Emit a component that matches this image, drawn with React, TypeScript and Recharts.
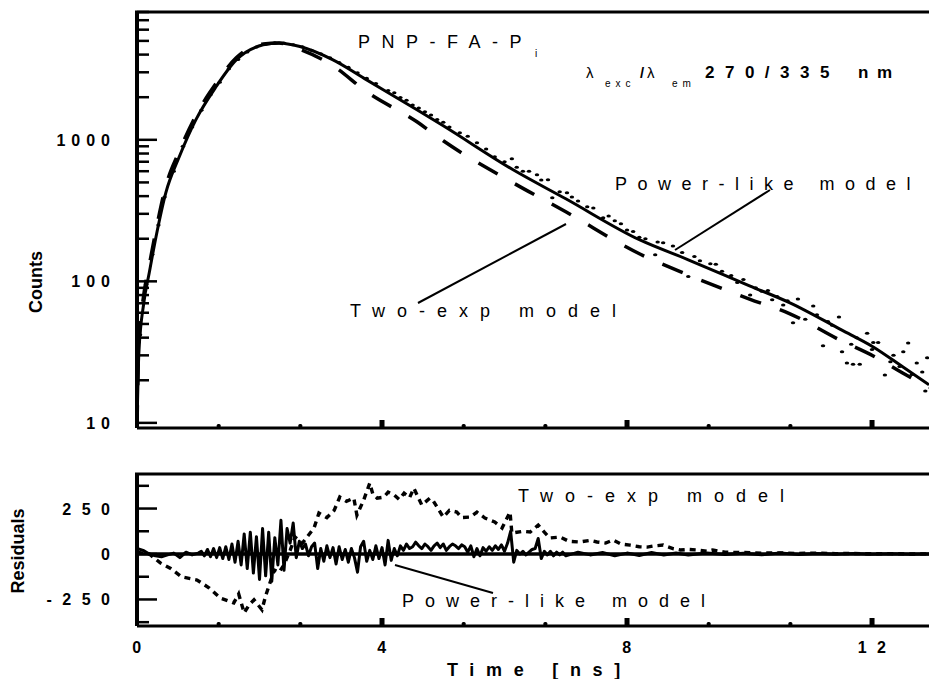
import { ComposedChart, Line, Scatter, XAxis, YAxis, ReferenceLine } from 'recharts'

// fitted decay curves (counts vs time in ns)
const modelTimes = [0, 0.03, 0.11, 0.2, 0.31, 0.47, 0.69, 0.96, 1.29, 1.62, 2.06, 2.32, 2.66, 3.2, 3.75, 4.57, 5.0, 6.14, 7.0, 8.21, 9.0, 10.0, 10.66, 11.5, 12.02, 12.5, 12.93]
const powerLikeCounts = [9.3, 31, 70, 115, 206, 422, 759, 1384, 2370, 3670, 4690, 4840, 4560, 3670, 2650, 1630, 1256, 614, 383, 196, 142, 93, 70.5, 45.4, 34.4, 24.9, 18.6]
const twoExpCounts = [9.3, 36, 80, 130, 230, 470, 830, 1480, 2500, 3800, 4750, 4830, 4350, 3335, 2183, 1341, 984, 497, 310, 156, 111, 75, 59, 38, 29.7, 22.5, 17.8]

// measured decay, [time, counts]
const measured: [number, number][] = [
  [0.05, 42], [0.15, 95], [0.25, 155], [0.35, 250], [0.45, 395], [0.6, 600], [0.75, 900], [0.9, 1230], [1.05, 1620], [1.2, 2080],
  [1.35, 2550], [1.5, 3180], [1.65, 3700], [1.8, 4180], [1.95, 4520], [2.1, 4760], [2.25, 4850], [2.4, 4830], [2.55, 4700], [2.7, 4540],
  [2.85, 4300], [3.0, 4050], [3.15, 3800], [3.3, 3520], [3.45, 3250], [3.6, 2980], [3.75, 2720], [3.9, 2500], [4.1, 2230], [4.2, 2150],
  [4.3, 1990], [4.4, 1900], [4.5, 1760], [4.6, 1680], [4.7, 1580], [4.8, 1500], [4.9, 1390], [5.0, 1330], [5.1, 1230], [5.27, 1120],
  [5.4, 1060], [5.55, 953], [5.7, 860], [5.84, 759], [6.0, 700], [6.12, 735], [6.2, 640], [6.3, 600], [6.4, 600], [6.53, 566],
  [6.6, 520], [6.71, 522], [6.78, 389], [6.9, 430], [7.02, 422], [7.1, 395], [7.2, 370], [7.35, 336], [7.45, 330], [7.61, 281],
  [7.7, 290], [7.8, 268], [7.9, 255], [8.0, 231], [8.1, 225], [8.2, 205], [8.3, 200], [8.46, 154], [8.5, 190], [8.59, 187],
  [8.75, 178], [8.9, 160], [9.0, 108], [9.1, 150], [9.19, 140], [9.36, 133], [9.45, 132], [9.55, 118], [9.7, 110], [9.8, 98],
  [9.9, 103], [10.01, 80], [10.1, 90], [10.2, 85], [10.3, 86], [10.37, 74], [10.45, 78], [10.55, 68], [10.62, 73], [10.71, 51],
  [10.79, 75], [10.91, 54], [11.04, 67], [11.1, 58], [11.2, 35], [11.28, 52], [11.35, 49], [11.46, 56], [11.51, 31.8], [11.59, 26.5],
  [11.66, 36], [11.69, 26], [11.75, 40], [11.8, 26], [11.92, 43], [12.0, 33], [12.02, 37], [12.1, 37], [12.21, 21.8], [12.3, 27],
  [12.35, 30], [12.45, 25], [12.51, 31.8], [12.59, 36.7], [12.65, 22], [12.73, 26.5], [12.82, 22.9], [12.87, 16.8], [12.9, 28.8],
]

// residuals, [time, residual]
const powerResiduals: [number, number][] = [
  [0, 30], [0.1, 20], [0.2, 0], [0.3, -10], [0.4, -15], [0.5, -5], [0.6, 5], [0.7, -20], [0.8, 10], [0.9, -5], [1.0, 5],
  [1.05, 15], [1.1, -10], [1.15, 25], [1.2, -15], [1.25, 30], [1.3, -20], [1.35, 35], [1.4, -25], [1.45, 40], [1.5, -30],
  [1.55, 55], [1.6, -45], [1.65, 70], [1.7, -60], [1.75, 110], [1.8, -80], [1.85, 120], [1.9, -105], [1.95, 95], [2.0, -140],
  [2.05, 140], [2.1, -120], [2.15, 120], [2.2, -150], [2.25, 90], [2.3, -60], [2.35, 185], [2.4, -90], [2.45, 140], [2.5, 60],
  [2.55, 170], [2.6, -20], [2.65, 70], [2.7, 30], [2.75, 55], [2.8, -10], [2.85, 40], [2.9, 60], [2.95, -80], [3.0, 30],
  [3.05, -40], [3.1, 45], [3.15, -20], [3.2, 35], [3.25, -55], [3.3, 40], [3.35, -30], [3.4, 25], [3.45, -45], [3.5, 30],
  [3.55, -20], [3.6, -100], [3.65, 40], [3.7, 70], [3.75, -40], [3.8, 20], [3.85, -30], [3.9, 45], [3.95, -25], [4.0, 35],
  [4.05, -60], [4.1, 75], [4.15, -35], [4.2, 30], [4.25, -10], [4.3, 45], [4.35, 20], [4.4, 55], [4.45, 30], [4.5, 40],
  [4.55, 65], [4.6, 45], [4.65, 30], [4.7, 55], [4.75, 40], [4.8, 20], [4.85, 45], [4.9, 60], [4.95, 35], [5.0, 55],
  [5.05, 20], [5.1, 40], [5.15, 55], [5.2, 45], [5.25, 30], [5.3, 50], [5.35, 40], [5.4, 10], [5.45, 45], [5.5, -15],
  [5.55, 30], [5.6, -10], [5.65, 35], [5.7, 15], [5.75, 40], [5.8, 20], [5.85, 45], [5.9, 25], [5.95, 50], [6.0, 15],
  [6.05, 60], [6.1, 125], [6.15, -45], [6.2, 20], [6.25, 0], [6.3, 15], [6.35, -5], [6.4, 10], [6.45, 25], [6.5, 30],
  [6.55, 85], [6.6, -25], [6.65, 15], [6.7, -5], [6.75, 15], [6.8, -10], [6.85, 10], [6.9, -5], [6.95, 10], [7.0, -10],
  [7.2, 10], [7.4, -5], [7.6, 8], [7.8, -10], [8.0, 5], [8.2, -8], [8.4, 8], [8.6, -5], [8.8, 5], [9.0, -5], [9.3, 5],
  [9.6, -3], [9.9, 4], [10.2, -4], [10.5, 5], [10.8, -3], [11.1, 3], [11.4, -2], [11.7, 3], [12.0, -2], [12.3, 2], [12.6, -2], [12.93, 0],
]
const twoExpResiduals: [number, number][] = [
  [0, 10], [0.2, 0], [0.38, -49], [0.55, -80], [0.73, -126], [0.98, -143], [1.18, -187], [1.36, -242], [1.58, -269], [1.66, -220],
  [1.75, -324], [1.83, -280], [1.91, -252], [2.04, -307], [2.1, -230], [2.16, -170], [2.24, -88], [2.32, -100], [2.4, -60], [2.5, 20],
  [2.58, 93], [2.7, 60], [2.89, 143], [2.97, 225], [3.1, 200], [3.22, 241], [3.31, 313], [3.42, 290], [3.54, 307], [3.59, 214],
  [3.7, 296], [3.8, 390], [3.85, 330], [3.92, 307], [4.03, 313], [4.1, 340], [4.2, 324], [4.28, 300], [4.36, 335], [4.45, 310],
  [4.52, 362], [4.65, 269], [4.78, 307], [4.83, 296], [5.0, 203], [5.1, 240], [5.22, 231], [5.3, 200], [5.44, 203], [5.55, 230],
  [5.68, 198], [5.84, 176], [5.96, 143], [6.09, 231], [6.12, 115], [6.3, 125], [6.42, 121], [6.55, 159], [6.65, 120], [6.74, 88],
  [6.91, 93], [7.05, 70], [7.23, 66], [7.4, 75], [7.51, 66], [7.65, 60], [7.77, 77], [7.9, 55], [8.05, 49], [8.2, 40],
  [8.33, 38], [8.45, 45], [8.59, 49], [8.75, 30], [8.87, 22], [9.0, 25], [9.14, 22], [9.3, 15], [9.4, 22], [9.6, 10],
  [9.9, 8], [10.2, 5], [10.5, 6], [10.8, 3], [11.1, 5], [11.4, 2], [11.7, 3], [12.0, 1], [12.3, 2], [12.6, 0], [12.93, 1],
]

const timeTicks = [0, 1.3333, 2.6667, 4, 5.3333, 6.6667, 8, 9.3333, 10.6667, 12]
const countTicks = [10, 20, 30, 40, 50, 60, 70, 80, 90, 100, 200, 300, 400, 500, 600, 700, 800, 900, 1000, 2000, 3000, 4000, 5000, 6000, 7000, 8000]
const countLabels: Record<number, string> = { 10: '10', 100: '100', 1000: '1000' }
const residualTicks = [-375, -250, -125, 0, 125, 250, 375]
const residualLabels: Record<number, string> = { '-250': '-250', 0: '0', 250: '250' }
const timeLabels: Record<number, string> = { 0: '0', 4: '4', 8: '8', 12: '12' }

const pairs = (ts: number[], vs: number[]) => ts.map((t, i) => ({ t, c: vs[i] }))
const rows = (list: [number, number][]) => list.map(([t, c]) => ({ t, c }))
const powerLikeData = pairs(modelTimes, powerLikeCounts)
const twoExpData = pairs(modelTimes, twoExpCounts)
const measuredData = rows(measured)
const powerRes = rows(powerResiduals)
const twoExpRes = rows(twoExpResiduals)

const FONT = "'Liberation Sans', Arial, sans-serif"
const LEFT = 137
const W = 929
const X_MAX = 12.93
const TOP_AXIS_Y = 428
const BOT_AXIS_Y = 186 // inside the lower chart

const numStyle = { fontFamily: FONT, fontWeight: 700, fontSize: 16, letterSpacing: 10.5 }
const annStyle = { fontFamily: FONT, fontSize: 18 }

const isMajor = (v: number) => Math.abs(v - Math.round(v / 4) * 4) < 0.01

function CountTick({ y, payload }: any) {
  const label = countLabels[payload.value]
  return (
    <g>
      <line x1={LEFT} x2={LEFT + (label ? 20 : 12)} y1={y} y2={y} stroke="#000" strokeWidth={2.5} />
      {label && (
        <text x={110 + 6} y={y + 6} textAnchor="end" style={{ ...numStyle, letterSpacing: 6 }}>{label}</text>
      )}
    </g>
  )
}

function ResidualTick({ y, payload }: any) {
  const label = residualLabels[payload.value]
  return (
    <g>
      <line x1={LEFT} x2={LEFT + (label ? 20 : 12)} y1={y} y2={y} stroke="#000" strokeWidth={2.5} />
      {label && (
        <text x={110 + 10.5} y={y + 6} textAnchor="end" style={numStyle}>{label}</text>
      )}
    </g>
  )
}

function TimeMark({ x, v, axisY }: { x: number; v: number; axisY: number }) {
  if (v === 0) return null
  return isMajor(v)
    ? <rect x={x - 2.5} y={axisY - 8} width={5} height={8} fill="#000" />
    : <rect x={x - 2} y={axisY - 4} width={4} height={4} rx={1.5} fill="#000" />
}

export default function App() {
  return (
    <div style={{ position: 'absolute', left: 0, top: 0, width: W, height: 679, background: '#fff' }}>
      <div style={{ position: 'absolute', left: 0, top: 0 }}>
        <ComposedChart width={W} height={440} margin={{ top: 12, right: 0, bottom: 0, left: 0 }}>
          <XAxis
            dataKey="t" type="number" domain={[0, X_MAX]} allowDataOverflow ticks={timeTicks} interval={0}
            height={12} tickLine={false} axisLine={{ stroke: '#000', strokeWidth: 3 }}
            tick={(p: any) => <TimeMark x={p.x} v={p.payload.value} axisY={TOP_AXIS_Y} />}
          />
          <YAxis
            type="number" scale="log" domain={[9.2, 8000]} allowDataOverflow ticks={countTicks} interval={0}
            width={LEFT} tickLine={false} axisLine={{ stroke: '#000', strokeWidth: 4 }}
            tick={(p: any) => <CountTick {...p} />}
          />
          <Scatter
            data={measuredData} dataKey="c" isAnimationActive={false}
            shape={(p: any) => <ellipse cx={p.cx} cy={p.cy} rx={2.2} ry={1.5} fill="#000" />}
          />
          <Line data={twoExpData} dataKey="c" type="monotone" stroke="#000" strokeWidth={3.5}
            strokeDasharray="22 20" dot={false} isAnimationActive={false} />
          <Line data={powerLikeData} dataKey="c" type="monotone" stroke="#000" strokeWidth={3}
            dot={false} isAnimationActive={false} />
        </ComposedChart>
      </div>

      <div style={{ position: 'absolute', left: 0, top: 440 }}>
        <ComposedChart width={W} height={239} margin={{ top: 34, right: 0, bottom: 0, left: 0 }}>
          <XAxis
            dataKey="t" type="number" domain={[0, X_MAX]} allowDataOverflow ticks={timeTicks} interval={0}
            height={53} tickLine={false} axisLine={{ stroke: '#000', strokeWidth: 3 }}
            tick={(p: any) => {
              const v = p.payload.value
              const label = timeLabels[Math.round(v)]
              return (
                <g>
                  <TimeMark x={p.x} v={v} axisY={BOT_AXIS_Y} />
                  {isMajor(v) && label && (
                    <text x={p.x + 5} y={213} textAnchor="middle" style={numStyle}>{label}</text>
                  )}
                </g>
              )
            }}
          />
          <YAxis
            type="number" domain={[-396, 440]} allowDataOverflow ticks={residualTicks} interval={0}
            width={LEFT} tickLine={false} axisLine={{ stroke: '#000', strokeWidth: 4 }}
            tick={(p: any) => <ResidualTick {...p} />}
          />
          <ReferenceLine y={0} stroke="#000" strokeWidth={3.5} />
          <Line data={twoExpRes} dataKey="c" type="linear" stroke="#000" strokeWidth={3.4}
            strokeDasharray="6 5" dot={false} isAnimationActive={false} />
          <Line data={powerRes} dataKey="c" type="linear" stroke="#000" strokeWidth={3}
            strokeLinejoin="round" dot={false} isAnimationActive={false} />
        </ComposedChart>
      </div>

      <svg width={W} height={679} style={{ position: 'absolute', left: 0, top: 0, pointerEvents: 'none' }}>
        <line x1={LEFT - 2} x2={W} y1={12} y2={12} stroke="#000" strokeWidth={3} />
        <line x1={LEFT - 2} x2={W} y1={474} y2={474} stroke="#000" strokeWidth={3} />

        <text x={358} y={48} style={{ ...annStyle, letterSpacing: 11.5 }}>PNP-FA-P</text>
        <text x={535} y={57} style={{ ...annStyle, fontSize: 10 }}>i</text>

        <text x={586} y={78} style={{ ...annStyle, fontSize: 15 }}>λ</text>
        <text x={605} y={87} style={{ ...annStyle, fontSize: 10, letterSpacing: 5 }}>exc</text>
        <text x={640} y={78} style={{ ...annStyle, fontSize: 15, fontWeight: 700 }}>/</text>
        <text x={647} y={78} style={{ ...annStyle, fontSize: 15 }}>λ</text>
        <text x={672} y={87} style={{ ...annStyle, fontSize: 10, letterSpacing: 5 }}>em</text>
        <text x={705} y={78} style={{ ...annStyle, fontSize: 17, fontWeight: 700, letterSpacing: 10.5 }}>270/335</text>
        <text x={858} y={78} style={{ ...annStyle, fontSize: 17, fontWeight: 700, letterSpacing: 8.5 }}>nm</text>

        <text x={615} y={190} style={{ ...annStyle, letterSpacing: 10.5 }}>Power-like model</text>
        <line x1={770} y1={190} x2={675} y2={250} stroke="#000" strokeWidth={2} />
        <text x={350} y={317} style={{ ...annStyle, letterSpacing: 12 }}>Two-exp model</text>
        <line x1={418} y1={303} x2={566} y2={224} stroke="#000" strokeWidth={2} />

        <text x={518} y={502} style={{ ...annStyle, letterSpacing: 12 }}>Two-exp model</text>
        <text x={402} y={607} style={{ ...annStyle, letterSpacing: 11 }}>Power-like model</text>
        <line x1={395} y1={565} x2={493} y2={593} stroke="#000" strokeWidth={2} />

        <g transform="translate(36,282) rotate(-90)">
          <text x={0} y={6} textAnchor="middle" style={{ fontFamily: FONT, fontWeight: 700, fontSize: 18 }}>Counts</text>
        </g>
        <g transform="translate(17,551) rotate(-90)">
          <text x={0} y={7} textAnchor="middle" style={{ fontFamily: FONT, fontWeight: 700, fontSize: 18 }}>Residuals</text>
        </g>
        <text x={447} y={676} style={{ fontFamily: FONT, fontWeight: 700, fontSize: 18, letterSpacing: 11.7 }}>Time [ns]</text>
      </svg>
    </div>
  )
}
